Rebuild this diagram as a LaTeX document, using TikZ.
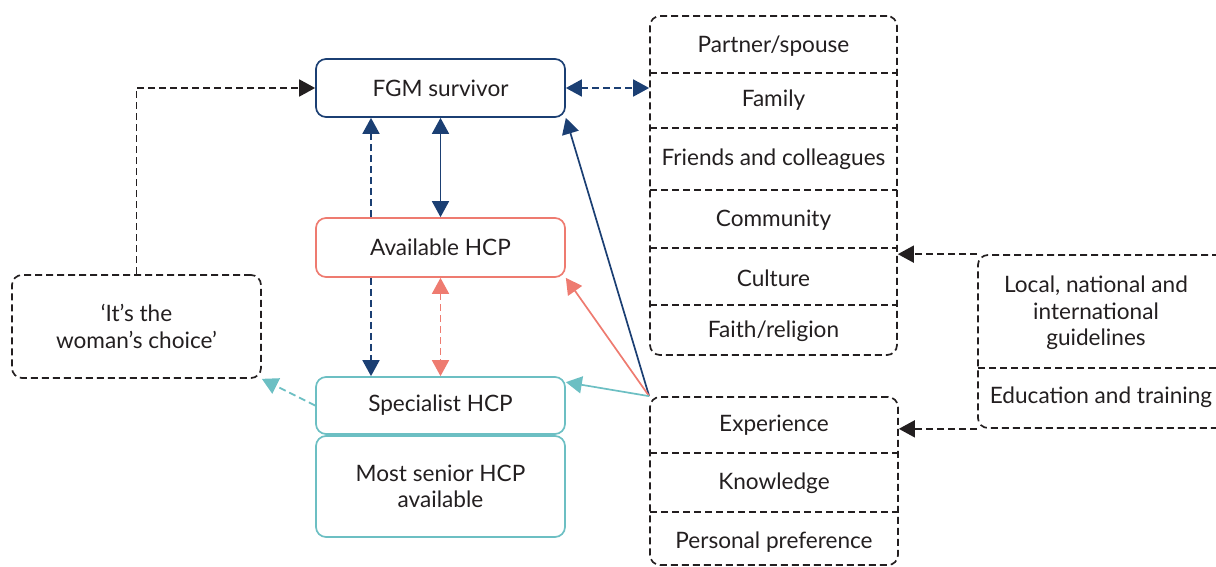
\documentclass[tikz,border=0pt]{standalone}
\usepackage{fontspec}
\setmainfont{Lato}
\usepackage{xcolor}
\usepackage{tikz}
\usetikzlibrary{arrows.meta}
\definecolor{navy}{HTML}{1B3F73}
\definecolor{salmon}{HTML}{EE7B70}
\definecolor{hcpteal}{HTML}{6CBFC3}
\definecolor{ink}{HTML}{231F20}

\begin{document}
\begin{tikzpicture}[x=0.5pt,y=-0.5pt,line width=0.85pt,
		font=\fontsize{11.3}{13.3}\selectfont,
		box/.style={draw,rounded corners=5pt,align=center,text=ink,inner sep=0pt,minimum width=124.5pt},
		dline/.style={dash pattern=on 3.5pt off 2pt},
		onetip/.style={-{Triangle[length=8pt,width=8.5pt]}},
		twotips/.style={{Triangle[length=8pt,width=8.5pt]}-{Triangle[length=8pt,width=8.5pt]}},
		row/.style={text=ink,align=center}]
		\useasboundingbox (0,0) rectangle (1216,567);
		
		\node[box,draw=navy,minimum height=29pt] (fgm) at (440.5,88) {FGM survivor};
		\node[box,draw=salmon,minimum height=29.5pt] (avail) at (440.5,247.5) {Available HCP};
		\node[box,draw=hcpteal,minimum height=28.5pt] (spec) at (440.5,405.5) {Specialist HCP};
		\node[box,draw=hcpteal,minimum height=50.5pt] (senior) at (440.5,486.5) {Most senior HCP\\available};
		\node[box,draw=ink,dline,minimum height=51.5pt] (choice) at (136.5,326.5) {‘It’s the\\woman’s choice’};
		
		\node[box,draw=ink,dline,minimum width=123.5pt,minimum height=169.5pt] (social) at (773.5,185.5) {};
		\foreach \y in {73,128,190,248,305}
			\draw[ink,dline] (650,\y) -- (897,\y);
		\node[row] (partner) at (773.5,46) {Partner/spouse};
		\node[row] (family) at (773.5,100) {Family};
		\node[row] (friends) at (773.5,159) {Friends and colleagues};
		\node[row] (community) at (773.5,220) {Community};
		\node[row] (culture) at (773.5,278) {Culture};
		\node[row] (faith) at (773.5,331) {Faith/religion};
		
		\node[box,draw=ink,dline,minimum width=124pt,minimum height=84pt] (personal) at (774,481) {};
		\foreach \y in {453,512}
			\draw[ink,dline] (650,\y) -- (898,\y);
		\node[row] (experience) at (774,425) {Experience};
		\node[row] (knowledge) at (774,483) {Knowledge};
		\node[row] (preference) at (774,542) {Personal preference};
		
		\node[box,draw=ink,dline,minimum width=131pt,minimum height=86.5pt] (guide) at (1109,341.5) {};
		\draw[ink,dline] (978,368) -- (1240,368);
		\node[row] (guidelines) at (1096,313) {Local, national and\\international\\guidelines};
		\node[row] (education) at (1101,397) {Education and training};
		
		\draw[ink,dline,onetip] (choice.north) |- (fgm.west);
		\draw[navy,dline,twotips] (fgm.east) -- (social.west |- fgm.east);
		\draw[navy,dline,onetip] ([xshift=-34.75pt]avail.north) -- ([xshift=-34.75pt]fgm.south);
		\draw[navy,twotips] (fgm.south) -- (avail.north);
		\draw[navy,dline,onetip] ([xshift=-34.75pt]avail.south) -- ([xshift=-34.75pt]spec.north);
		\draw[salmon,dline,twotips] (avail.south) -- (spec.north);
		\draw[hcpteal,dline,onetip] (spec.west) -- (choice.south east);
		
		\draw[navy,onetip] (personal.north west) -- (fgm.south east);
		\draw[salmon,onetip] (personal.north west) -- (avail.south east);
		\draw[hcpteal,onetip] (personal.north west) -- ([yshift=-3pt]spec.north east);
		
		\draw[ink,dline,onetip] (guide.north west) -- (social.east |- guide.north west);
		\draw[ink,dline,onetip] (guide.south west) -- (personal.east |- guide.south west);
\end{tikzpicture}
\end{document}
